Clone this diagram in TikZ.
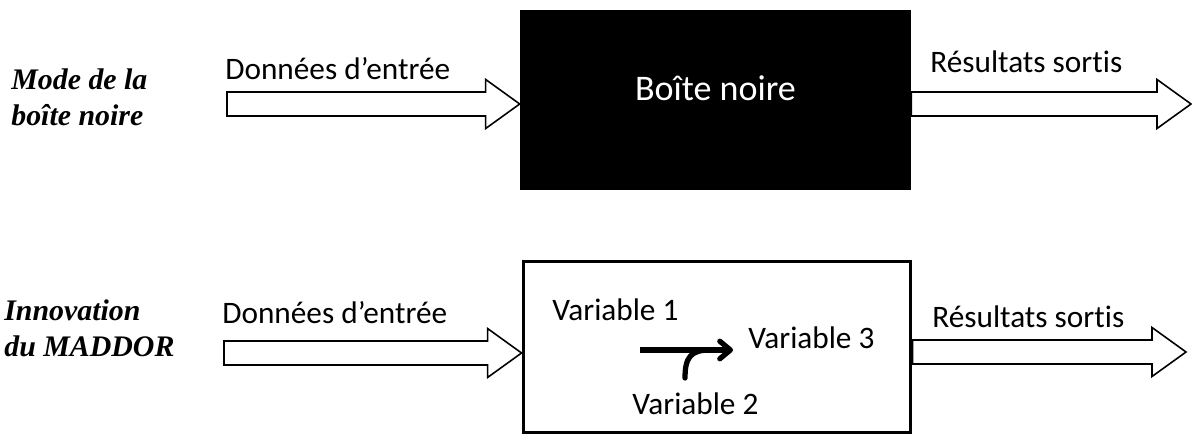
\documentclass[tikz,border=0pt]{standalone}
\usepackage{fontspec}
\setmainfont{Carlito}[Ligatures=NoCommon]
\newfontfamily\titrefont{Liberation Serif}
\usetikzlibrary{
    arrows.meta,
    positioning,
    calc
}
\tikzset{
    texte/.style={inner sep=0pt, anchor=base west, font=\fontsize{17.8}{21}\selectfont},
    titre/.style={inner sep=0pt, anchor=north west, align=left,
        font=\titrefont\bfseries\itshape\fontsize{17}{20.5}\selectfont},
    blocarrow/.style={draw=black, fill=white, line width=0.9pt, miter limit=20},
    boitenoire/.style={fill=black, text=white, minimum width=7.82cm, minimum height=3.6cm,
        text depth=13pt, font=\fontsize{20.5}{24}\selectfont},
    boiteblanche/.style={draw=black, line width=1.7pt, minimum width=7.76cm, minimum height=3.44cm},
    flechevar/.style={line width=3pt, -{Straight Barb[length=6pt, width=10pt, round]}},
    courbe/.style={line width=3pt, line cap=round}
}
\newcommand{\flechebloc}[2]{%
    \draw[blocarrow]
        ($(#1)+(0,-12)$) -- ($(#2)+(-34,-12)$) -- ($(#2)+(-34,-24.5)$) -- (#2)
        -- ($(#2)+(-34,24.5)$) -- ($(#2)+(-34,12)$) -- ($(#1)+(0,12)$) -- cycle;
}

\begin{document}
\begin{tikzpicture}[
    x=0.02cm,
    y=-0.02cm
]

\useasboundingbox (0,0) rectangle (1192,438);

% boite noire
\node[boitenoire] (boite) at (715.5,100) {Boîte noire};

\node[titre] (mode) at (11,68) {Mode de la\\boîte noire};

\coordinate (e1) at (227,104);
\coordinate (s1) at (1191,104);

\flechebloc{e1}{boite.west|-e1}
\flechebloc{boite.east|-s1}{s1}

\node[texte] (entree1) at (225,80) {Données d’entrée};
\node[texte] (sortie1) at (930,73) {Résultats sortis};

% MADDOR
\node[boiteblanche] (maddor) at (717,347) {};

\node[titre] (innov) at (4,299) {Innovation\\du MADDOR};

\coordinate (e2) at (224,353);
\coordinate (s2) at (1186,352);

\flechebloc{e2}{maddor.west|-e2}
\flechebloc{maddor.east|-s2}{s2}

\node[texte] (entree2) at (222,324) {Données d’entrée};
\node[texte] (sortie2) at (932,328) {Résultats sortis};

\node[texte] (v1) at (552,321) {Variable 1};
\node[texte] (v3) at (748,349) {Variable 3};
\node[texte] (v2) at (632,414) {Variable 2};

\coordinate (depart) at (640,350);
\coordinate (pied) at (685,378);

\draw[flechevar]
    (depart) -- ($(v3.base west|-depart)+(-15,0)$);

\draw[courbe]
    (pied) .. controls (685,357) and (691,350) .. (710,350);

\end{tikzpicture}
\end{document}
